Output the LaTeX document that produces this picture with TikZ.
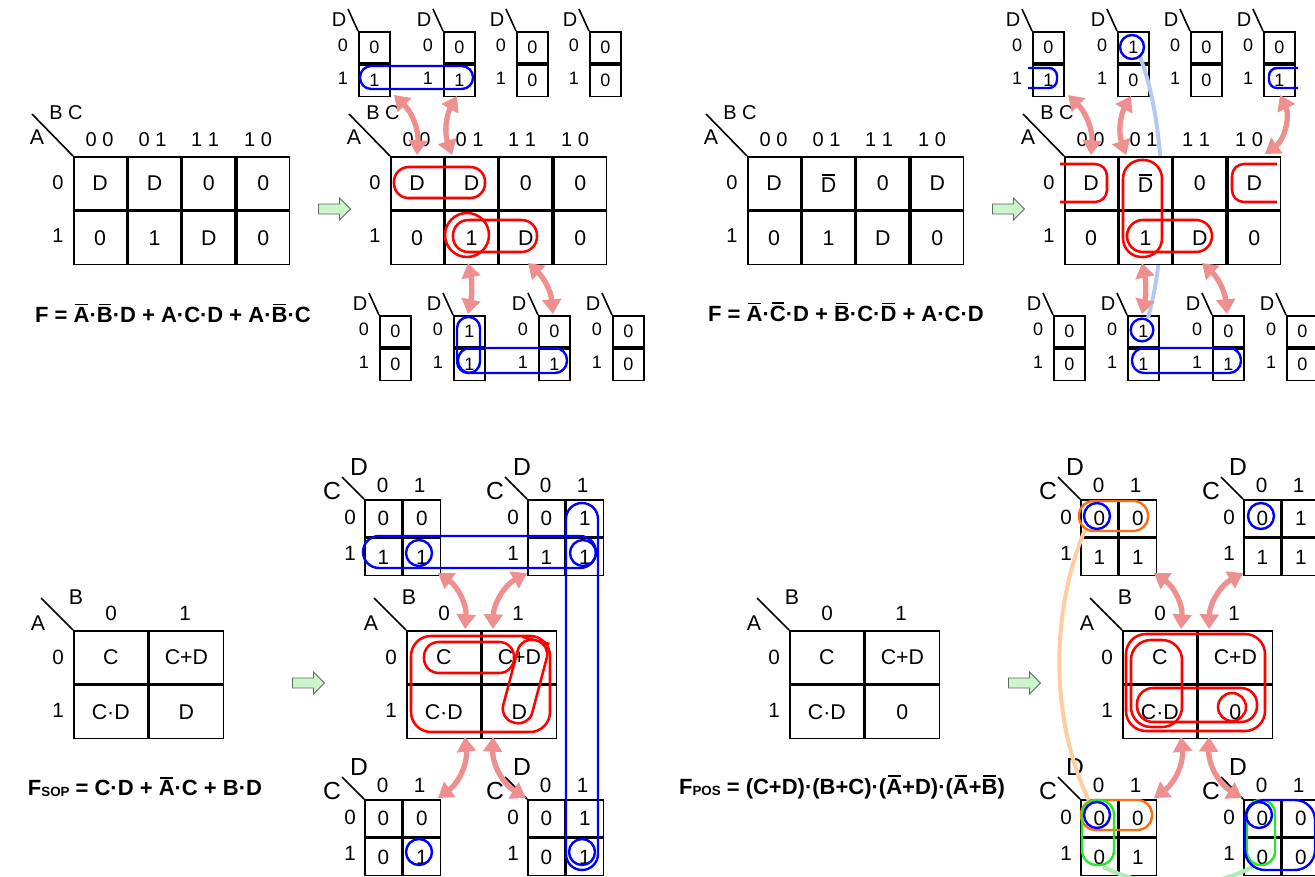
\documentclass[tikz,border=0pt]{standalone}
\usepackage{fontspec}
\setmainfont{Liberation Sans}
\usetikzlibrary{arrows.meta,matrix,shapes.arrows}
\definecolor{kred}{RGB}{255,0,0}
\definecolor{kblue}{RGB}{0,0,255}
\definecolor{kpink}{RGB}{238,144,144}
\definecolor{klblue}{RGB}{178,202,242}
\definecolor{korange}{RGB}{255,110,10}
\definecolor{kpeach}{RGB}{255,206,160}
\definecolor{kgreen}{RGB}{40,230,40}
\definecolor{klgreen}{RGB}{175,238,175}
\definecolor{kagreen}{RGB}{204,245,204}
\newsavebox\kovlbox
\newcommand\ovl[1]{\sbox\kovlbox{#1}\rlap{\kern0.1\wd\kovlbox\raisebox{\dimexpr\ht\kovlbox+1.5pt\relax}{\rule{0.8\wd\kovlbox}{1.2pt}}}\usebox\kovlbox}
\newcommand\fs[1]{\fontsize{#1pt}{#1pt}\selectfont}
\tikzset{
  kline/.style={line width=1.2pt},
  kcell/.style={draw, line width=1.2pt, fill=white, inner sep=0pt, outer sep=0pt, anchor=center},
  kmat/.style={matrix of nodes, inner sep=0pt, outer sep=0pt, row sep=0pt, column sep=0pt, ampersand replacement=\&},
  widemap/.style={kmat, nodes={kcell, minimum width=39.56pt, minimum height=39.75pt, font=\fs{16}}},
  sqmap/.style={kmat, nodes={kcell, minimum width=55.5pt, minimum height=39.75pt, font=\fs{16}}},
  colmap/.style={kmat, nodes={kcell, minimum width=23.25pt, minimum height=23.6pt, font=\fs{13.5}}},
  smsq/.style={kmat, nodes={kcell, minimum width=27.75pt, minimum height=27.75pt, font=\fs{15.5}}},
  kvar/.style={inner sep=0pt, font=\fs{16}},
  kvarw/.style={inner sep=0pt, font=\fs{15}},
  klab/.style={inner sep=0pt, font=\fs{15}},
  klabh/.style={inner sep=0pt, font=\fs{15}},
  kvarb/.style={inner sep=0pt, font=\fs{15}},
  klabb/.style={inner sep=0pt, font=\fs{13.5}},
  kvarc/.style={inner sep=0pt, font=\fs{18.5}},
  klabc/.style={inner sep=0pt, font=\fs{15.5}},
  kform/.style={inner sep=0pt, font=\fs{16.5}\bfseries},
  loopred/.style={draw=kred, line width=1.9pt},
  loopblue/.style={draw=kblue, line width=1.8pt},
  looporange/.style={draw=korange, line width=1.8pt},
  loopgreen/.style={draw=kgreen, line width=1.8pt},
  pinkarrow/.style={draw=kpink, line width=4pt, {Triangle[length=11pt,width=14pt]}-{Triangle[length=11pt,width=14pt]}},
  greenarrow/.style={single arrow, draw=black!60, fill=kagreen, line width=0.6pt, minimum height=24pt, inner sep=3.5pt, single arrow head extend=4.5pt},
}
% wide 2x4 map: name, x, y, content
\newcommand\KWide[4]{%
  \draw[kline] ({#2-41},{#3-42}) -- (#2,#3);
  \node[kvarw] (#1v1) at ({#2-7},{#3-43}) {B C};
  \node[kvar] (#1v2) at ({#2-36},{#3-19}) {A};
  \node[klabh] (#1c1) at ({#2+26.5},{#3-16}) {0 0};
  \node[klabh] (#1c2) at ({#2+79.5},{#3-16}) {0 1};
  \node[klabh] (#1c3) at ({#2+132},{#3-16}) {1 1};
  \node[klabh] (#1c4) at ({#2+185},{#3-16}) {1 0};
  \node[klab] (#1r1) at ({#2-15},{#3+26.5}) {0};
  \node[klab] (#1r2) at ({#2-15},{#3+79.5}) {1};
  \matrix (#1) [widemap, anchor=north west] at (#2,#3) {#4};
}
% small 2x1 map: name, x, y, top, bottom
\newcommand\KCol[5]{%
  \draw[kline] ({#2-10},{#3-22}) -- (#2,#3);
  \node[kvarb] (#1v) at ({#2-19},{#3-11}) {D};
  \node[klabb] (#1r1) at ({#2-15},{#3+14}) {0};
  \node[klabb] (#1r2) at ({#2-15},{#3+47}) {1};
  \matrix (#1) [colmap, anchor=north west] at (#2,#3) {#4\\#5\\};
}
% small 2x2 map
\newcommand\KSq[7]{%
  \draw[kline] ({#2-22},{#3-22}) -- (#2,#3);
  \node[kvarc] (#1v1) at ({#2-5},{#3-32}) {D};
  \node[kvarc] (#1v2) at ({#2-32},{#3-8}) {C};
  \node[klabc] (#1c1) at ({#2+18.5},{#3-14}) {0};
  \node[klabc] (#1c2) at ({#2+55.5},{#3-14}) {1};
  \node[klabc] (#1r1) at ({#2-14},{#3+18.5}) {0};
  \node[klabc] (#1r2) at ({#2-14},{#3+54}) {1};
  \matrix (#1) [smsq, anchor=north west] at (#2,#3) {#4 \& #5\\ #6 \& #7\\};
}
% main 2x2 map
\newcommand\KSqBig[7]{%
  \draw[kline] ({#2-32},{#3-32}) -- (#2,#3);
  \node[kvar] (#1v1) at ({#2+3},{#3-33}) {B};
  \node[kvar] (#1v2) at ({#2-35},{#3-7}) {A};
  \node[klabc] (#1c1) at ({#2+38},{#3-17}) {0};
  \node[klabc] (#1c2) at ({#2+112},{#3-17}) {1};
  \node[klabc] (#1r1) at ({#2-15},{#3+27}) {0};
  \node[klabc] (#1r2) at ({#2-15},{#3+80}) {1};
  \matrix (#1) [sqmap, anchor=north west] at (#2,#3) {#4 \& #5\\ #6 \& #7\\};
}
\begin{document}
\begin{tikzpicture}[x=0.75pt,y=-0.75pt]
\useasboundingbox (0,0) rectangle (1315,877);
% ---------- small maps ----------
\KCol{q1sa}{358}{31}{0}{1}
\KCol{q1sb}{443}{31}{0}{1}
\KCol{q1sc}{516}{31}{0}{0}
\KCol{q1sd}{589}{31}{0}{0}
\KCol{q1se}{379}{315}{0}{0}
\KCol{q1sf}{453}{315}{1}{1}
\KCol{q1sg}{538}{315}{0}{1}
\KCol{q1sh}{612}{315}{0}{0}
\KCol{q2sa}{1032}{31}{0}{1}
\KCol{q2sb}{1117}{31}{1}{0}
\KCol{q2sc}{1190}{31}{0}{0}
\KCol{q2sd}{1263}{31}{0}{1}
\KCol{q2se}{1053}{315}{0}{0}
\KCol{q2sf}{1127}{315}{1}{1}
\KCol{q2sg}{1212}{315}{0}{1}
\KCol{q2sh}{1286}{315}{0}{0}
\KSq{q3sa}{364}{499}{0}{0}{1}{1}
\KSq{q3sb}{527}{499}{0}{1}{1}{1}
\KSq{q3sc}{364}{799}{0}{0}{0}{1}
\KSq{q3sd}{527}{799}{0}{1}{0}{1}
\KSq{q4sa}{1080}{499}{0}{0}{1}{1}
\KSq{q4sb}{1243}{499}{0}{1}{1}{1}
\KSq{q4sc}{1080}{799}{0}{0}{0}{1}
\KSq{q4sd}{1243}{799}{0}{0}{0}{0}
% ---------- link curves ----------
\coordinate (lbA) at (1140,57); \coordinate (lbB) at (1148,318);
\draw[klblue, line width=3pt] (lbA) .. controls (1165,120) and (1170,240) .. (lbB);
\coordinate (pcA) at (1085,530); \coordinate (pcB) at (1090,803);
\draw[kpeach, line width=3pt] (pcA) .. controls (1055,600) and (1045,710) .. (pcB);
\coordinate (lgA) at (1103,867); \coordinate (lgB) at (1252,867);
\draw[klgreen, line width=3pt] (lgA) .. controls (1150,890) and (1210,890) .. (lgB);
% ---------- main maps ----------
\KWide{q1m}{73}{156}{D \& D \& 0 \& 0\\ 0 \& 1 \& D \& 0\\}
\KWide{q1n}{390}{156}{D \& D \& 0 \& 0\\ 0 \& 1 \& D \& 0\\}
\KWide{q2m}{747}{156}{D \& \ovl{D} \& 0 \& D\\ 0 \& 1 \& D \& 0\\}
\KWide{q2n}{1064}{156}{D \& \ovl{D} \& 0 \& D\\ 0 \& 1 \& D \& 0\\}
\KSqBig{q3m}{73}{630}{C}{C+D}{C·D}{D}
\KSqBig{q3n}{406}{630}{C}{C+D}{C·D}{D}
\KSqBig{q4m}{789}{630}{C}{C+D}{C·D}{0}
\KSqBig{q4n}{1122}{630}{C}{C+D}{C·D}{0}
% ---------- loops Q1 ----------
\draw[loopblue, rounded corners=8.5pt] (360,66) rectangle (473,89);
\draw[loopred, rounded corners=11pt] (394,167) rectangle (485,198);
\draw[loopred] (467,235) circle[radius=16.5pt];
\draw[loopred, rounded corners=11.5pt] (453,220) rectangle (537,252);
\draw[loopblue, rounded corners=8.5pt] (457,317) rectangle (480,373);
\draw[loopblue, rounded corners=9pt] (458,348) rectangle (567,373);
% ---------- loops Q2 ----------
\draw[loopblue, rounded corners=6pt] (1028,68) -- (1057,68) -- (1057,88) -- (1028,88);
\draw[loopblue, rounded corners=6pt] (1298,68) -- (1269,68) -- (1269,88) -- (1298,88);
\draw[loopblue] (1132,47) circle[radius=9pt];
\draw[loopblue] (1142,330) circle[radius=8.5pt];
\draw[loopblue, rounded corners=9pt] (1132,348) rectangle (1241,373);
\draw[loopred, rounded corners=9pt] (1060,164) -- (1107,164) -- (1107,202) -- (1060,202);
\draw[loopred, rounded corners=9pt] (1277,164) -- (1232,164) -- (1232,202) -- (1277,202);
\draw[loopred, rounded corners=14pt] (1123,160) rectangle (1162,257);
\draw[loopred, rounded corners=12pt] (1127,220) rectangle (1212,252);
% ---------- loops Q3 ----------
\draw[loopred, rounded corners=15pt] (411,636) rectangle (550,732);
\draw[loopred, rounded corners=11pt] (424,642) rectangle (514,673);
\draw[loopred, rounded corners=10.5pt] (536,640.4) -- (550.4,644.2) -- (528.6,726.4) -- (499.6,718.8) -- (521.4,636.6) -- cycle;
\draw[loopblue, rounded corners=12pt] (363,536) rectangle (596,568);
\draw[loopblue] (419,553) circle[radius=9.75pt];
\draw[loopblue] (583,553) circle[radius=9.75pt];
\draw[loopblue, rounded corners=12pt] (566,503) rectangle (598,870);
\draw[loopblue] (419,852) circle[radius=9.75pt];
\draw[loopblue] (582,852) circle[radius=9.75pt];
% ---------- loops Q4 ----------
\draw[loopred, rounded corners=15pt] (1126,634) rectangle (1265,731);
\draw[loopred, rounded corners=15pt] (1131,640) rectangle (1182,727);
\draw[loopred, rounded corners=12pt] (1137,688) rectangle (1257,722);
\draw[loopred] (1232,707) circle[radius=10.5pt];
\draw[looporange, rounded corners=11pt] (1079,501) rectangle (1148,531);
\draw[loopblue] (1097,516) circle[radius=9.75pt];
\draw[loopblue] (1261,516) circle[radius=9.75pt];
\draw[looporange, rounded corners=11pt] (1081,800) rectangle (1152,830);
\draw[loopgreen, rounded corners=11pt] (1082,800) rectangle (1114,865);
\draw[loopblue] (1097,815) circle[radius=9.75pt];
\draw[loopgreen, rounded corners=10pt] (1247,800) rectangle (1275,865);
\draw[loopblue, rounded corners=15pt] (1245,800) rectangle (1315,870);
\draw[loopblue] (1259,815) circle[radius=9.75pt];
% ---------- pink arrows ----------
\coordinate (a1s) at (394,95);   \coordinate (a1e) at (417,155);
\coordinate (a2s) at (457,96);   \coordinate (a2e) at (452,155);
\coordinate (a3s) at (468,263);  \coordinate (a3e) at (468,314);
\coordinate (a4s) at (528,263);  \coordinate (a4e) at (553,314);
\draw[pinkarrow] (a1s) to[bend left=25] (a1e);
\draw[pinkarrow] (a2s) to[bend right=24] (a2e);
\draw[pinkarrow] (a3s) to[bend left=12] (a3e);
\draw[pinkarrow] (a4s) to[bend left=21] (a4e);
\coordinate (b1s) at (1068,95);  \coordinate (b1e) at (1091,155);
\coordinate (b2s) at (1131,96);  \coordinate (b2e) at (1126,155);
\coordinate (b5s) at (1280,95);  \coordinate (b5e) at (1265,154);
\coordinate (b3s) at (1142,263); \coordinate (b3e) at (1142,314);
\coordinate (b4s) at (1202,263); \coordinate (b4e) at (1227,314);
\draw[pinkarrow] (b1s) to[bend left=25] (b1e);
\draw[pinkarrow] (b2s) to[bend right=24] (b2e);
\draw[pinkarrow] (b5s) to[bend left=40] (b5e);
\draw[pinkarrow] (b3s) to[bend left=12] (b3e);
\draw[pinkarrow] (b4s) to[bend left=21] (b4e);
\coordinate (c1s) at (438,573);  \coordinate (c1e) at (465,629);
\coordinate (c2s) at (527,573);  \coordinate (c2e) at (493,629);
\coordinate (c3s) at (465,737);  \coordinate (c3e) at (438,798);
\coordinate (c4s) at (493,737);  \coordinate (c4e) at (526,798);
\draw[pinkarrow] (c1s) to[bend left=30] (c1e);
\draw[pinkarrow] (c2s) to[bend right=30] (c2e);
\draw[pinkarrow] (c3s) to[bend left=30] (c3e);
\draw[pinkarrow] (c4s) to[bend right=30] (c4e);
\coordinate (d1s) at (1154,573); \coordinate (d1e) at (1181,629);
\coordinate (d2s) at (1243,573); \coordinate (d2e) at (1209,629);
\coordinate (d3s) at (1181,737); \coordinate (d3e) at (1154,798);
\coordinate (d4s) at (1209,737); \coordinate (d4e) at (1242,798);
\draw[pinkarrow] (d1s) to[bend left=30] (d1e);
\draw[pinkarrow] (d2s) to[bend right=30] (d2e);
\draw[pinkarrow] (d3s) to[bend left=30] (d3e);
\draw[pinkarrow] (d4s) to[bend right=30] (d4e);
% ---------- green arrows ----------
\node[greenarrow] (g1) at (332,209) {};
\node[greenarrow] (g2) at (1006,209) {};
\node[greenarrow] (g3) at (306,683) {};
\node[greenarrow] (g4) at (1022,683) {};
% ---------- formulas ----------
\node[kform] (f1) at (173,313) {F = \ovl{A}·\ovl{B}·D + A·C·D + A·\ovl{B}·C};
\node[kform] (f2) at (846,312) {F = \ovl{A}·\ovl{C}·D + \ovl{B}·C·\ovl{D} + A·C·D};
\node[kform] (f3) at (145,787) {F\raisebox{-1pt}{\fs{10}SOP} = C·D + \ovl{A}·C + B·D};
\node[kform] (f4) at (842,787) {F\raisebox{-1pt}{\fs{10}POS} = (C+D)·(B+C)·(\ovl{A}+D)·(\ovl{A}+\ovl{B})};
\end{tikzpicture}
\end{document}
